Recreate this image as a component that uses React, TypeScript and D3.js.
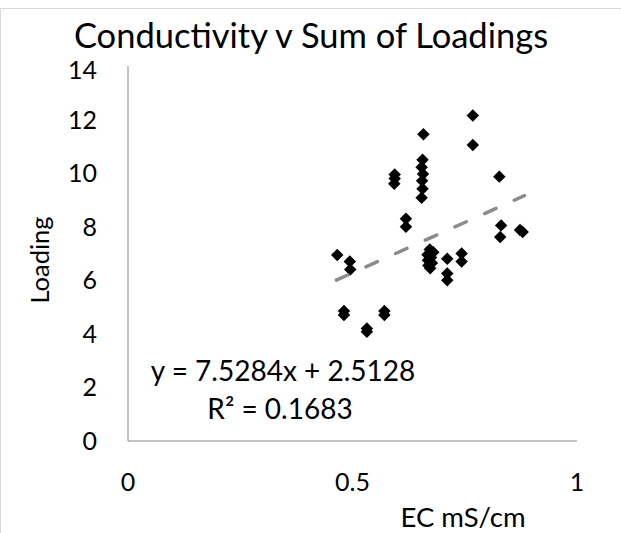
import React from "react";
import * as d3 from "d3";

const ecValues = [
  0.768, 0.768, 0.658, 0.827,
  0.656, 0.654, 0.657, 0.655, 0.656, 0.654,
  0.594, 0.594, 0.593,
  0.619, 0.619,
  0.831, 0.829,
  0.873, 0.879,
  0.466,
  0.494, 0.495,
  0.672, 0.68, 0.667, 0.675, 0.668, 0.677, 0.669, 0.673,
  0.711, 0.711, 0.711,
  0.743, 0.743,
  0.481, 0.481,
  0.532, 0.532,
  0.571, 0.571,
];
const loadingValues = [
  12.15, 11.05, 11.45, 9.87,
  10.5, 10.22, 9.97, 9.72, 9.42, 9.08,
  9.95, 9.8, 9.6,
  8.3, 8.0,
  8.05, 7.62,
  7.88, 7.8,
  6.94,
  6.7, 6.4,
  7.15, 7.05, 6.95, 6.85, 6.75, 6.65, 6.55, 6.45,
  6.8, 6.25, 6.0,
  7.0, 6.7,
  4.85, 4.7,
  4.2, 4.08,
  4.85, 4.7,
];
const trendSlope = 7.5284;
const trendIntercept = 2.5128;
const xTicks = [0, 0.5, 1];
const yTicks = [0, 2, 4, 6, 8, 10, 12, 14];
const titleText = "Conductivity v Sum of Loadings";
const xTitle = "EC mS/cm";
const yTitle = "Loading";
const eqLine1 = "y = 7.5284x + 2.5128";
const eqLine2 = "R² = 0.1683";

const FONT = "Lato, 'Open Sans', sans-serif";

export default function App() {
  const W = 621;
  const H = 533;
  const x = d3.scaleLinear().domain([0, 1]).range([128, 577]);
  const y = d3.scaleLinear().domain([0, 14]).range([441, 66]);
  const diamond = d3.symbol().type(d3.symbolSquare).size(78)() as string;
  const xMin = d3.min(ecValues) as number;
  const xMax = d3.max(ecValues) as number;
  const trend = d3
    .line<number>()
    .x((v) => x(v))
    .y((v) => y(trendSlope * v + trendIntercept));
  const trendPath = trend([xMin - 0.002, xMax + 0.004]) as string;

  return (
    <svg
      width={W}
      height={H}
      viewBox={`0 0 ${W} ${H}`}
      style={{ position: "absolute", left: 0, top: 0, background: "#fff" }}
    >
      <rect x={0} y={0} width={W} height={H} fill="#fff" />
      <rect x={0.5} y={8.5} width={W + 50} height={H + 50} fill="none" stroke="#d9d9d9" strokeWidth={1} />
      <text x={311} y={48} textAnchor="middle" fontFamily={FONT} fontSize={34.5} fill="#000">
        {titleText}
      </text>
      {/* axes */}
      <line x1={x(0)} x2={x(0)} y1={y(14)} y2={y(0)} stroke="#868686" strokeWidth={1} />
      <line x1={x(0)} x2={x(1)} y1={y(0)} y2={y(0)} stroke="#868686" strokeWidth={1} />
      {yTicks.map((t) => (
        <text
          key={"y" + t}
          x={97}
          y={y(t) + (t === 14 ? 4 : 0)}
          dy="0.36em"
          textAnchor="end"
          fontFamily={FONT}
          fontSize={25}
          fill="#000"
        >
          {t}
        </text>
      ))}
      {xTicks.map((t) => (
        <text
          key={"x" + t}
          x={x(t)}
          y={491}
          textAnchor="middle"
          fontFamily={FONT}
          fontSize={25}
          fill="#000"
        >
          {t}
        </text>
      ))}
      <text
        transform={`translate(49,260) rotate(-90)`}
        textAnchor="middle"
        fontFamily={FONT}
        fontSize={25.5}
        fill="#000"
      >
        {yTitle}
      </text>
      <text x={463} y={527} textAnchor="middle" fontFamily={FONT} fontSize={27.5} fill="#000">
        {xTitle}
      </text>
      {/* points */}
      {ecValues.map((v, i) => (
        <path
          key={"p" + i}
          d={diamond}
          transform={`translate(${x(v)},${y(loadingValues[i])}) rotate(45)`}
          fill="#000"
        />
      ))}
      <path
        d={trendPath}
        fill="none"
        stroke="#8c8c8c"
        strokeWidth={3.5}
        strokeDasharray="12.5 20"
        strokeLinecap="round"
      />
      <text x={283} y={381} textAnchor="middle" fontFamily={FONT} fontSize={28} fill="#000">
        {eqLine1}
      </text>
      <text x={280} y={419} textAnchor="middle" fontFamily={FONT} fontSize={28} fill="#000">
        {eqLine2}
      </text>
    </svg>
  );
}
